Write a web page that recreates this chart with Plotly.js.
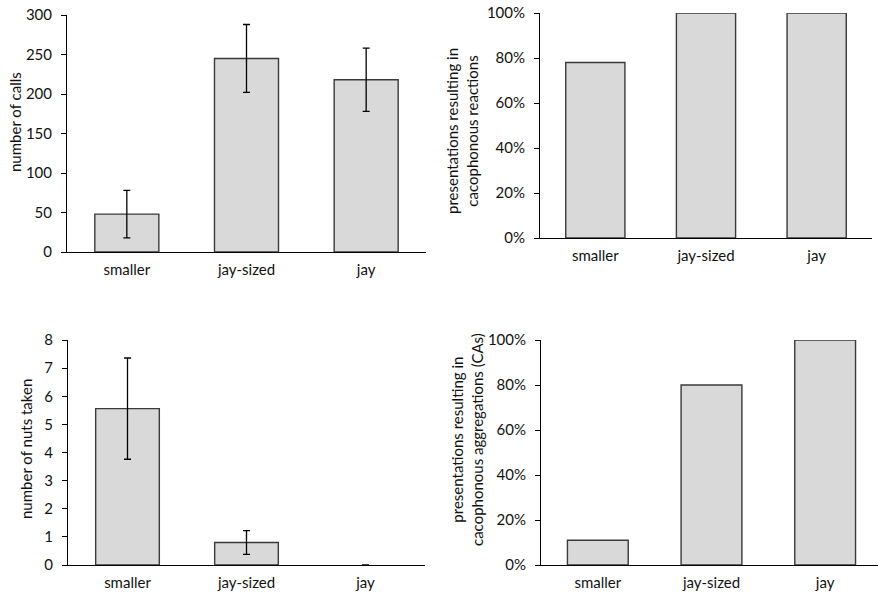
<!DOCTYPE html>
<html>
<head>
<meta charset="utf-8">
<script src="https://cdn.plot.ly/plotly-3.0.1.min.js"></script>
<style>
  html, body { margin: 0; padding: 0; background: #fff; }
  #chart { width: 878px; height: 599px; }
</style>
</head>
<body>
<div id="chart"></div>
<script>
// ---- data ----
const categories = ['smaller', 'jay-sized', 'jay'];
const calls = [48, 245, 218];
const callsErr = [30, 43, 40];
const cacophonousReactions = [0.78, 1.0, 1.0];
const nutsTaken = [5.56, 0.8, 0];
const nutsErr = [1.8, 0.42, 0];
const cacophonousAggregations = [0.11, 0.8, 1.0];

const yTitles = [
  'number of calls',
  'presentations resulting in<br>cacophonous reactions',
  'number of nuts taken',
  'presentations resulting in<br>cacophonous aggregations (CAs)'
];

// ---- layout helpers ----
const W = 878, H = 599;
const fx = p => p / W;
const fy = p => 1 - p / H;

const FONT = 'Lato, "Open Sans", sans-serif';
const TXT = '#111';
const barFill = '#d9d9d9';
const errStyle = (arr) => ({ type: 'data', array: arr, visible: true, color: '#000', thickness: 1.3, width: 3.5 });

function barTrace(y, xa, ya, err) {
  const t = {
    type: 'bar', x: categories, y: y, xaxis: xa, yaxis: ya,
    marker: { color: barFill, line: { color: '#3a3a3a', width: y.map(v => v === 0 ? 0 : 1.4) } },
    hoverinfo: 'skip', showlegend: false
  };
  if (err) t.error_y = errStyle(err);
  return t;
}

const data = [
  barTrace(calls, 'x', 'y', callsErr),
  barTrace(cacophonousReactions, 'x2', 'y2'),
  barTrace(nutsTaken, 'x3', 'y3', nutsErr),
  barTrace(cacophonousAggregations, 'x4', 'y4')
];

function xAxis(d0, d1, anchor, range) {
  return {
    domain: [fx(d0), fx(d1)], anchor: anchor,
    type: 'category', range: range || [-0.5, 2.5],
    showline: true, linecolor: '#000', linewidth: 1,
    ticks: '', showgrid: false, zeroline: false, fixedrange: true,
    tickfont: { family: FONT, size: 15, color: TXT },
    ticklabelstandoff: 4
  };
}
function yAxis(d0, d1, anchor, range, dtick, fmt) {
  const a = {
    domain: [fy(d1), fy(d0)], anchor: anchor,
    range: range, dtick: dtick, tick0: 0,
    showline: true, linecolor: '#000', linewidth: 1,
    ticks: 'outside', ticklen: 5, tickcolor: '#000', tickwidth: 1,
    showgrid: false, zeroline: false, fixedrange: true,
    tickfont: { family: FONT, size: 15, color: TXT },
    ticklabelstandoff: 6
  };
  if (fmt) a.tickformat = fmt;
  return a;
}

const titleFont = { family: FONT, size: 15, color: TXT };
const layout = {
  width: W, height: H,
  margin: { l: 0, r: 0, t: 0, b: 0 },
  paper_bgcolor: '#fff', plot_bgcolor: '#fff',
  bargap: 0.465,
  font: { family: FONT, size: 15, color: TXT },
  xaxis: xAxis(67, 426, 'y'),
  yaxis: yAxis(15, 252, 'x', [0, 300], 50),
  xaxis2: xAxis(540, 872, 'y2'),
  yaxis2: yAxis(13, 238, 'x2', [0, 1], 0.2, '.0%'),
  xaxis3: xAxis(68, 425, 'y3'),
  yaxis3: yAxis(340, 565, 'x3', [0, 8], 1),
  xaxis4: xAxis(541, 878, 'y4', [-0.5, 2.465]),
  yaxis4: yAxis(340, 565, 'x4', [0, 1], 0.2, '.0%'),
  annotations: [
    { text: yTitles[0], x: fx(15), y: fy(122), xref: 'paper', yref: 'paper', textangle: -90, showarrow: false, xanchor: 'center', yanchor: 'middle', font: titleFont },
    { text: yTitles[1], x: fx(462), y: fy(131), xref: 'paper', yref: 'paper', textangle: -90, showarrow: false, xanchor: 'center', yanchor: 'middle', font: titleFont },
    { text: yTitles[2], x: fx(26), y: fy(449), xref: 'paper', yref: 'paper', textangle: -90, showarrow: false, xanchor: 'center', yanchor: 'middle', font: titleFont },
    { text: yTitles[3], x: fx(467), y: fy(440), xref: 'paper', yref: 'paper', textangle: -90, showarrow: false, xanchor: 'center', yanchor: 'middle', font: titleFont }
  ]
};

Plotly.newPlot('chart', data, layout, { displayModeBar: false, staticPlot: true });
</script>
</body>
</html>
